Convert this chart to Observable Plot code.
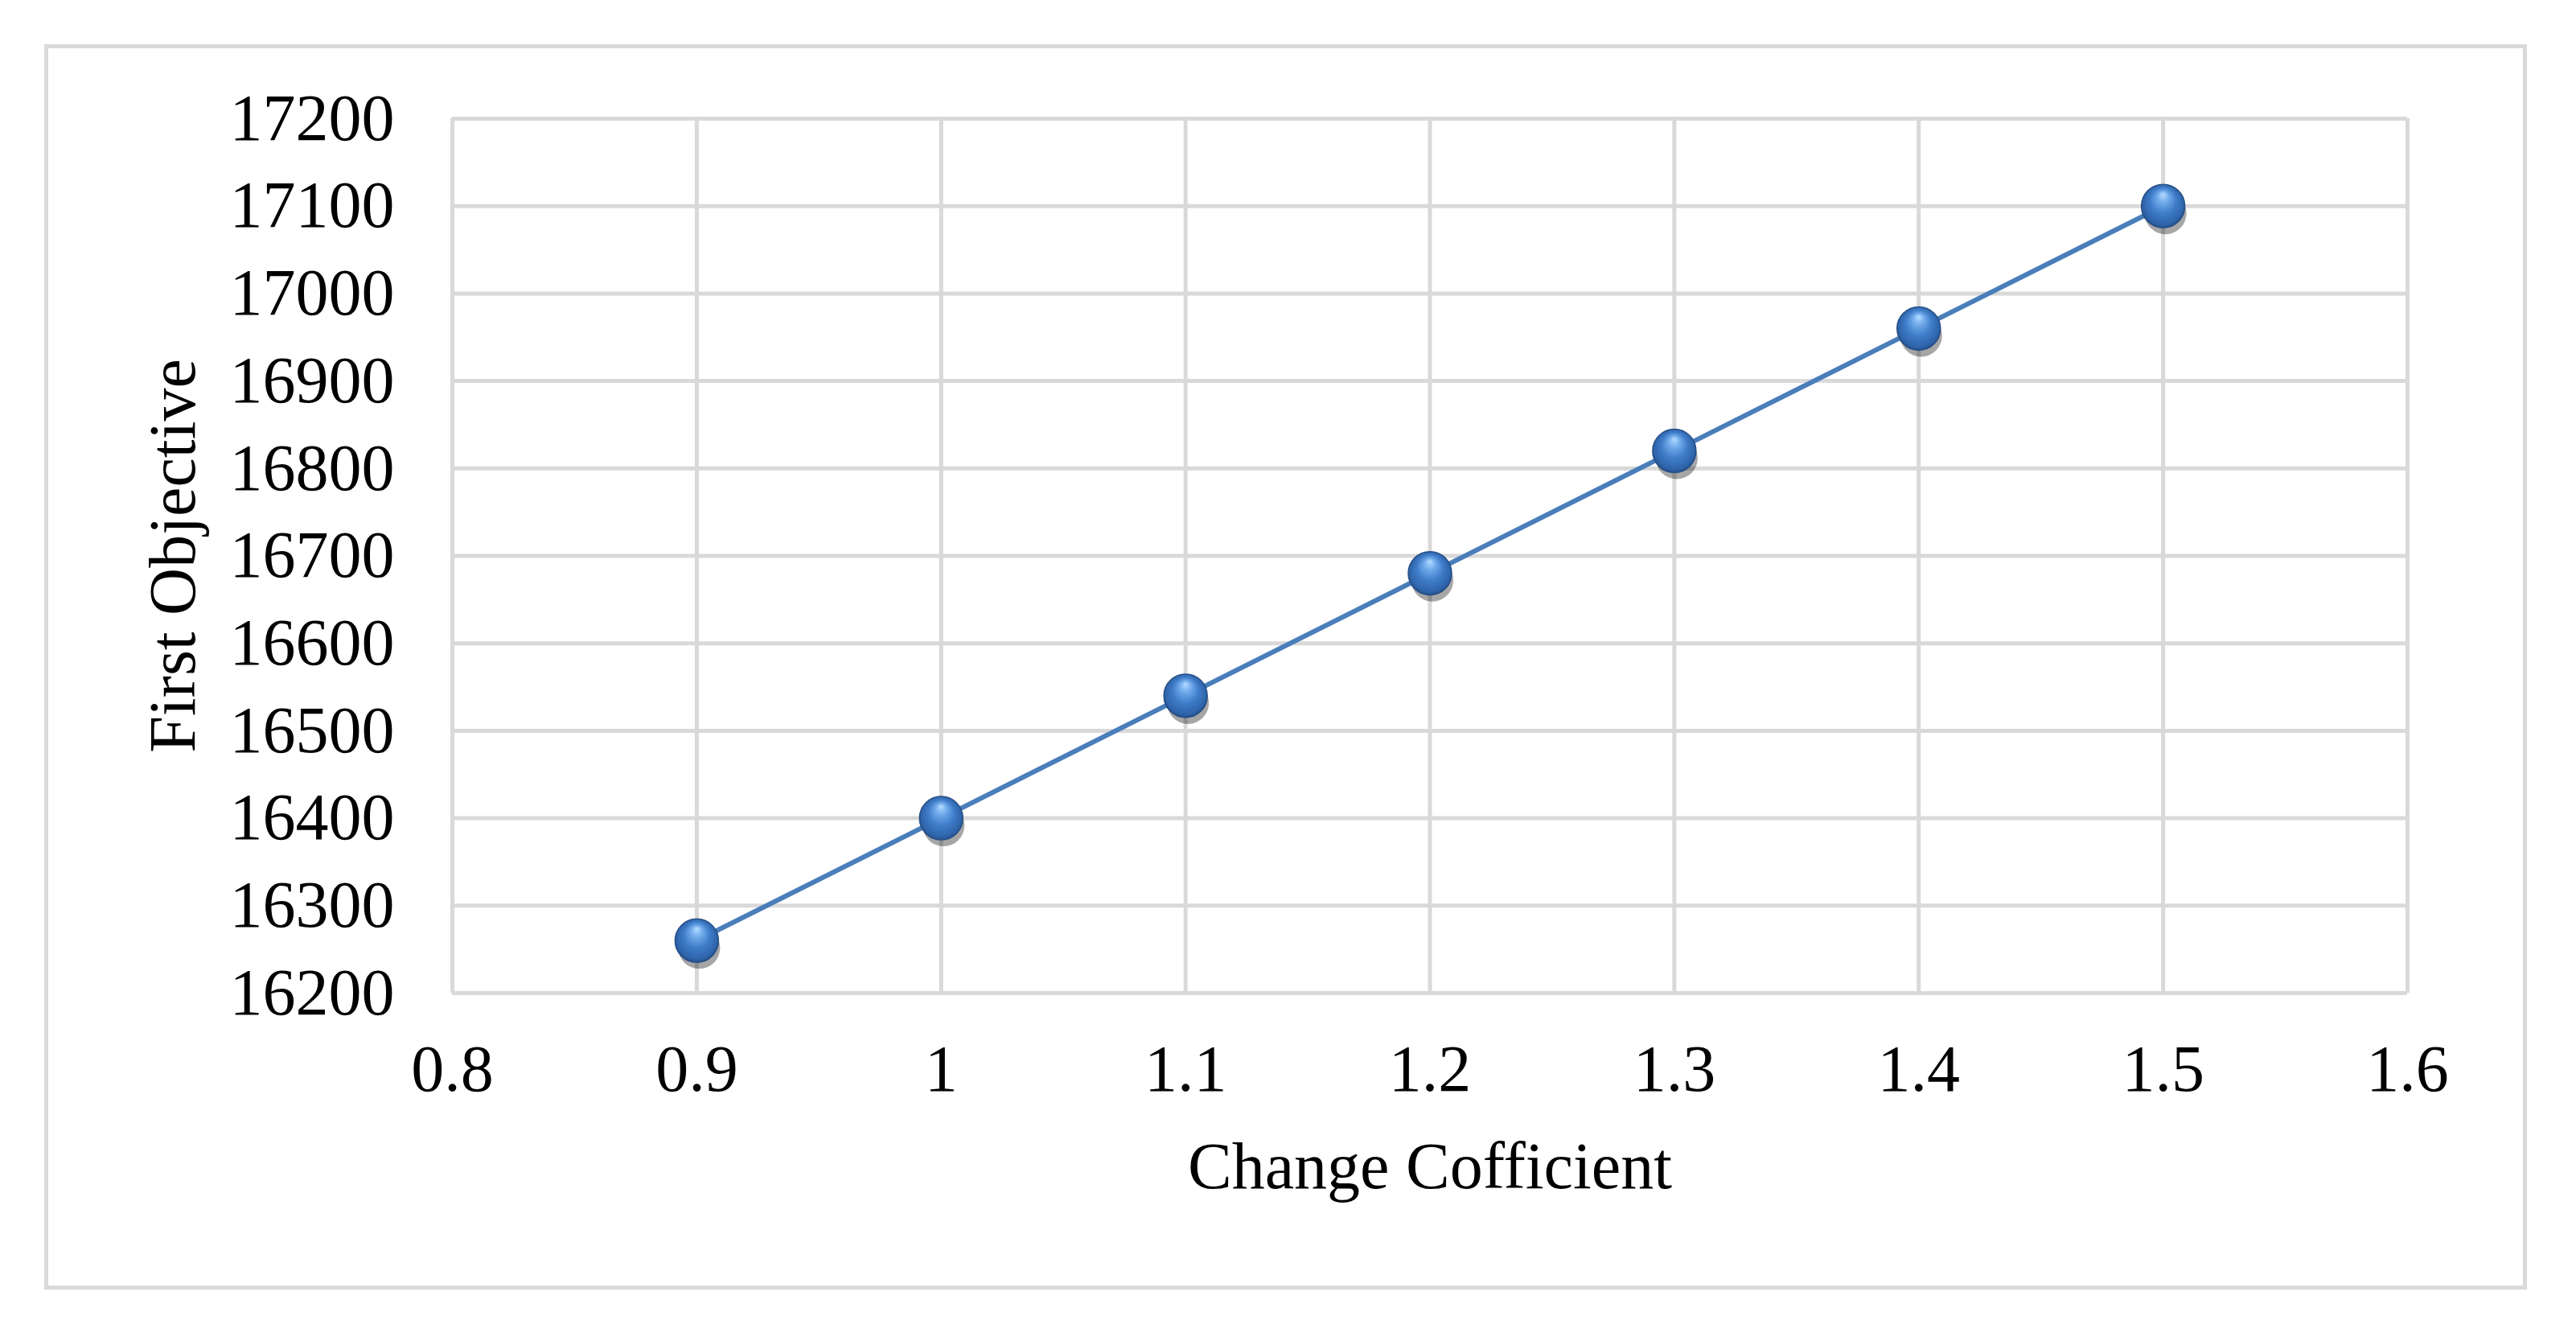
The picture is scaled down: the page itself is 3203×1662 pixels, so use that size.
<!DOCTYPE html>
<html>
<head>
<meta charset="utf-8">
<script src="https://cdn.jsdelivr.net/npm/d3@7"></script>
<script src="https://cdn.jsdelivr.net/npm/@observablehq/plot@0.6"></script>
<style>
  html, body { margin: 0; padding: 0; background: #fff; overflow: hidden; }
  #wrap { position: relative; width: 3203px; height: 1662px; }
  #border { position: absolute; left: 55px; top: 55px; width: 3077px; height: 1538px;
            border: 5px solid #d9d9d9; pointer-events: none; }
</style>
</head>
<body>
<div id="wrap"><div id="border"></div></div>
<script>
const xTicks = [0.8, 0.9, 1, 1.1, 1.2, 1.3, 1.4, 1.5, 1.6];
const yTicks = [16200, 16300, 16400, 16500, 16600, 16700, 16800, 16900, 17000, 17100, 17200];
const coefficients = [0.9, 1, 1.1, 1.2, 1.3, 1.4, 1.5];
const firstObjective = [16260, 16400, 16540, 16680, 16820, 16960, 17100];
const xLabel = "Change Cofficient";
const yLabel = "First Objective";

const data = coefficients.map((c, i) => ({c, v: firstObjective[i]}));
const grid = "#d9d9d9";
const font = "'Liberation Serif', 'Times New Roman', serif";

const chart = Plot.plot({
  width: 3203,
  height: 1662,
  marginLeft: 562,
  marginRight: 210,
  marginTop: 147,
  marginBottom: 428,
  style: {fontFamily: font, fontSize: "82px", color: "#000", background: "transparent", overflow: "visible"},
  x: {domain: [0.8, 1.6]},
  y: {domain: [16200, 17200]},
  marks: [
    Plot.gridX(xTicks, {stroke: grid, strokeOpacity: 1, strokeWidth: 5}),
    Plot.gridY(yTicks, {stroke: grid, strokeOpacity: 1, strokeWidth: 5}),
    Plot.axisX(xTicks, {tickSize: 0, tickPadding: 63, tickFormat: d => String(d), label: null, fontSize: 82}),
    Plot.axisY(yTicks, {tickSize: 0, tickPadding: 72, tickFormat: d => String(d), label: null, fontSize: 82}),
    Plot.line(data, {x: "c", y: "v", stroke: "#000", strokeOpacity: 0.16, strokeWidth: 10, dx: 5, dy: 14, ariaLabel: "shadow"}),
    Plot.line(data, {x: "c", y: "v", stroke: "#4a7ebb", strokeWidth: 6}),
    Plot.dot(data, {x: "c", y: "v", r: 26, fill: "#000", fillOpacity: 0.35, dx: 3, dy: 9, ariaLabel: "shadow2"}),
    Plot.dot(data, {x: "c", y: "v", r: 27, fill: "url(#sph)", stroke: "#274f86", strokeWidth: 1.5, ariaLabel: "sphere"}),
    Plot.text([xLabel], {frameAnchor: "bottom", dy: 216, lineAnchor: "middle", textAnchor: "middle", fontSize: 82}),
    Plot.text([yLabel], {frameAnchor: "left", dx: -347, rotate: -90, lineAnchor: "middle", textAnchor: "middle", fontSize: 82})
  ]
});

const svg = d3.select(chart);
const defs = svg.insert("defs", ":first-child");
const g = defs.append("radialGradient").attr("id", "sph")
  .attr("cx", "50%").attr("cy", "50%").attr("r", "55%").attr("fx", "50%").attr("fy", "22%");
[["0%", "#b5dcff"], ["25%", "#6fa9ea"], ["55%", "#3f7cc8"], ["85%", "#2e64aa"], ["100%", "#1d3f70"]]
  .forEach(([o, c]) => g.append("stop").attr("offset", o).attr("stop-color", c));
defs.append("filter").attr("id", "blur").attr("x", "-50%").attr("y", "-50%").attr("width", "200%").attr("height", "200%")
  .append("feGaussianBlur").attr("stdDeviation", 7);
defs.append("filter").attr("id", "blur2").attr("x", "-50%").attr("y", "-50%").attr("width", "200%").attr("height", "200%")
  .append("feGaussianBlur").attr("stdDeviation", 9);
svg.selectAll('[aria-label="shadow"]').attr("filter", "url(#blur)");
svg.selectAll('[aria-label="shadow2"]').attr("filter", "url(#blur2)");

document.getElementById("wrap").insertBefore(chart, document.getElementById("border"));
chart.style.position = "absolute";
chart.style.left = "0px";
chart.style.top = "0px";
</script>
</body>
</html>
